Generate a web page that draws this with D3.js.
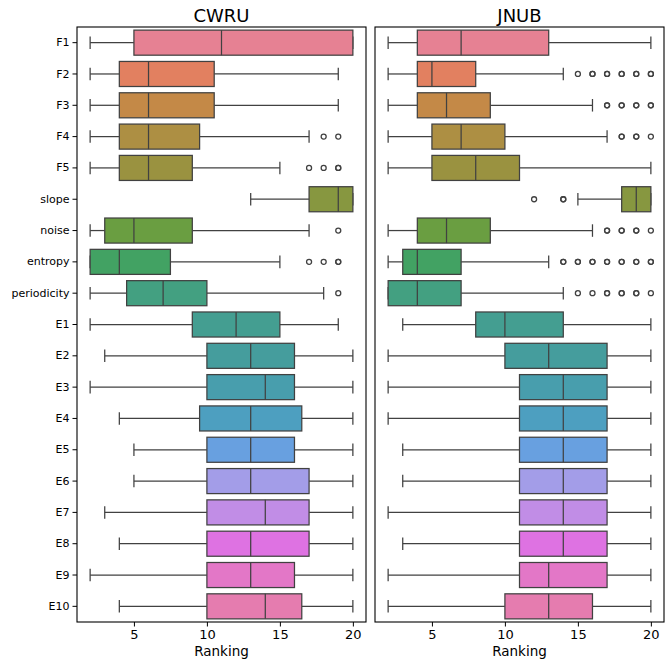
<!DOCTYPE html>
<html>
<head>
<meta charset="utf-8">
<script src="https://cdn.jsdelivr.net/npm/d3@7"></script>
<style>
  body { margin: 0; background: #fff; }
  text { font-family: "DejaVu Sans", sans-serif; fill: #000; }
</style>
</head>
<body>
<div id="chart"></div>
<script>
// Feature names, top to bottom
const features = ["F1", "F2", "F3", "F4", "F5", "slope", "noise", "entropy", "periodicity",
  "E1", "E2", "E3", "E4", "E5", "E6", "E7", "E8", "E9", "E10"];

// [whisker low, q1, median, q3, whisker high]
const cwruBoxes = [
  [2, 5, 11, 20, 20], [2, 4, 6, 10.5, 19], [2, 4, 6, 10.5, 19], [2, 4, 6, 9.5, 17],
  [2, 4, 6, 9, 15], [13, 17, 19, 20, 20], [2, 3, 5, 9, 17], [2, 2, 4, 7.5, 15],
  [2, 4.5, 7, 10, 18], [2, 9, 12, 15, 19], [3, 10, 13, 16, 20], [2, 10, 14, 16, 20],
  [4, 9.5, 13, 16.5, 20], [5, 10, 13, 16, 20], [5, 10, 13, 17, 20], [3, 10, 14, 17, 20],
  [4, 10, 13, 17, 20], [2, 10, 13, 16, 20], [4, 10, 14, 16.5, 20]
];
const cwruOutliers = [
  [], [], [], [18, 19], [17, 18, 19, 19], [], [19], [17, 18, 19, 19], [19],
  [], [], [], [], [], [], [], [], [], []
];

const jnubBoxes = [
  [2, 4, 7, 13, 20], [2, 4, 5, 8, 14], [2, 4, 6, 9, 16], [2, 5, 7, 10, 17],
  [2, 5, 8, 11, 20], [15, 18, 19, 20, 20], [2, 4, 6, 9, 16], [2, 3, 4, 7, 13],
  [2, 2, 4, 7, 14], [3, 8, 10, 14, 20], [2, 10, 13, 17, 20], [2, 11, 14, 17, 20],
  [2, 11, 14, 17, 20], [3, 11, 14, 17, 20], [3, 11, 14, 17, 20], [2, 11, 14, 17, 20],
  [3, 11, 14, 17, 20], [2, 11, 13, 17, 20], [2, 10, 13, 16, 20]
];
const jnubOutliers = [
  [], [15, 16, 16, 17, 17, 18, 18, 19, 19, 20, 20], [17, 17, 18, 18, 19, 19, 20, 20], [18, 18, 19, 19, 20],
  [], [12, 14, 14], [17, 17, 18, 18, 19, 19, 20], [14, 14, 15, 15, 16, 16, 17, 17, 18, 18, 19, 19, 20, 20],
  [15, 16, 17, 17, 18, 18, 19, 19, 20], [], [], [], [], [], [], [], [], [], []
];

const xTicks = [5, 10, 15, 20];

// ---- husl palette (same maths as seaborn's husl module) ----
const M = [[3.240969941904521, -1.537383177570093, -0.498610760293],
           [-0.96924363628087, 1.87596750150772, 0.041555057407175],
           [0.055630079696993, -0.20397695888897, 1.056971514242878]];
const kappa = 903.2962962, epsilon = 0.0088564516;
const refU = 0.19784, refV = 0.46834;

function maxChroma(L, H) {
  const hrad = H / 360 * 2 * Math.PI;
  const sinH = Math.sin(hrad), cosH = Math.cos(hrad);
  const sub1 = Math.pow(L + 16, 3) / 1560896;
  const sub2 = sub1 > epsilon ? sub1 : L / kappa;
  let result = Infinity;
  M.forEach(([m1, m2, m3]) => {
    const top = (0.99915 * m1 + 1.05122 * m2 + 1.14460 * m3) * sub2;
    const rbottom = 0.86330 * m3 - 0.17266 * m2;
    const lbottom = 0.12949 * m3 - 0.38848 * m1;
    const bottom = (rbottom * sinH + lbottom * cosH) * sub2;
    [0, 1].forEach(t => {
      const C = L * (top - 1.05122 * t) / (bottom + 0.17266 * sinH * t);
      if (C > 0 && C < result) result = C;
    });
  });
  return result;
}

function huslToRgb(H, S, L) {
  const C = maxChroma(L, H) / 100 * S;
  const hrad = H / 360 * 2 * Math.PI;
  const U = Math.cos(hrad) * C, V = Math.sin(hrad) * C;
  const Y = L > 8 ? Math.pow((L + 16) / 116, 3) : L / kappa;
  const varU = U / (13 * L) + refU, varV = V / (13 * L) + refV;
  const X = 0 - (9 * Y * varU) / ((varU - 4) * varV - varU * varV);
  const Z = (9 * Y - (15 * varV * Y) - (varV * X)) / (3 * varV);
  return M.map(row => {
    const c = row[0] * X + row[1] * Y + row[2] * Z;
    const v = c <= 0.0031308 ? 12.92 * c : 1.055 * Math.pow(c, 1 / 2.4) - 0.055;
    return Math.max(0, Math.min(1, v));
  });
}

const n = features.length;
const palette = d3.range(n).map(i => {
  const h = ((i / n + 0.01) % 1) * 359;
  const rgb = huslToRgb(h, 0.9 * 99, 0.65 * 99);
  const c = d3.hsl(d3.rgb(rgb[0] * 255, rgb[1] * 255, rgb[2] * 255));
  c.s *= 0.75;
  return c.formatHex();
});
const lineColor = (() => {
  const lum = d3.min(palette, c => d3.hsl(c).l) * 0.6;
  const v = Math.round(lum * 255);
  return d3.rgb(v, v, v).formatHex();
})();

// ---- layout ----
const width = 668, height = 662;
const plotTop = 27, plotBottom = 622;
const panels = [
  { title: "CWRU", boxes: cwruBoxes, outliers: cwruOutliers, left: 77, right: 366, yLabels: true },
  { title: "JNUB", boxes: jnubBoxes, outliers: jnubOutliers, left: 375, right: 664, yLabels: false }
];

const svg = d3.select("#chart").append("svg")
  .attr("width", width)
  .attr("height", height);

const y = d3.scaleBand().domain(features).range([plotTop, plotBottom]).padding(0);
const boxH = y.bandwidth() * 0.8;
const capH = boxH * 0.5;

panels.forEach(p => {
  const x = d3.scaleLinear().domain([1.1, 20.9]).range([p.left, p.right]);
  const g = svg.append("g");

  const rows = g.selectAll("g.row")
    .data(features.map((f, i) => ({ f, i, s: p.boxes[i], out: p.outliers[i] })))
    .join("g")
    .attr("class", "row")
    .attr("transform", d => `translate(0,${y(d.f) + y.bandwidth() / 2})`);

  // whiskers
  rows.append("line")
    .attr("x1", d => x(d.s[0])).attr("x2", d => x(d.s[1]))
    .attr("stroke", lineColor).attr("stroke-width", 1.25);
  rows.append("line")
    .attr("x1", d => x(d.s[3])).attr("x2", d => x(d.s[4]))
    .attr("stroke", lineColor).attr("stroke-width", 1.25);
  // caps
  [0, 4].forEach(k => {
    rows.append("line")
      .attr("x1", d => x(d.s[k])).attr("x2", d => x(d.s[k]))
      .attr("y1", -capH / 2).attr("y2", capH / 2)
      .attr("stroke", lineColor).attr("stroke-width", 1.25);
  });
  // box
  rows.append("rect")
    .attr("x", d => x(d.s[1]))
    .attr("width", d => x(d.s[3]) - x(d.s[1]))
    .attr("y", -boxH / 2)
    .attr("height", boxH)
    .attr("fill", d => palette[d.i])
    .attr("stroke", lineColor)
    .attr("stroke-width", 1.25);
  // median
  rows.append("line")
    .attr("x1", d => x(d.s[2])).attr("x2", d => x(d.s[2]))
    .attr("y1", -boxH / 2).attr("y2", boxH / 2)
    .attr("stroke", lineColor).attr("stroke-width", 1.25);
  // fliers
  rows.selectAll("circle")
    .data(d => d.out)
    .join("circle")
    .attr("cx", v => x(v))
    .attr("cy", 0)
    .attr("r", 2.5)
    .attr("fill", "none")
    .attr("stroke", lineColor)
    .attr("stroke-width", 1.3);

  // frame
  g.append("rect")
    .attr("x", p.left).attr("y", plotTop)
    .attr("width", p.right - p.left).attr("height", plotBottom - plotTop)
    .attr("fill", "none").attr("stroke", "#000").attr("stroke-width", 1.1);

  // x axis
  const xAxis = g.append("g")
    .attr("transform", `translate(0,${plotBottom})`)
    .call(d3.axisBottom(x).tickValues(xTicks).tickSize(4.5).tickPadding(3));
  xAxis.select(".domain").remove();
  xAxis.selectAll("text").style("font-size", "13px").attr("fill", "#000");
  xAxis.selectAll("line").attr("stroke", "#000");

  if (p.yLabels) {
    const yAxis = g.append("g")
      .attr("transform", `translate(${p.left},0)`)
      .call(d3.axisLeft(y).tickSize(4.5).tickPadding(3));
    yAxis.select(".domain").remove();
    yAxis.selectAll("text").style("font-size", "11px").attr("fill", "#000");
    yAxis.selectAll("line").attr("stroke", "#000");
  }

  g.append("text")
    .attr("x", (p.left + p.right) / 2)
    .attr("y", 22)
    .attr("text-anchor", "middle")
    .style("font-size", "18px")
    .text(p.title);

  g.append("text")
    .attr("x", (p.left + p.right) / 2)
    .attr("y", 656)
    .attr("text-anchor", "middle")
    .style("font-size", "13.5px")
    .text("Ranking");
});
</script>
</body>
</html>
